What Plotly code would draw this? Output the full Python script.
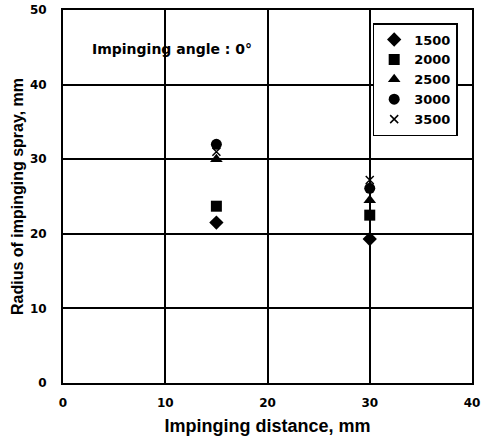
import plotly.graph_objects as go

distance = [15, 30]
series_names = ["1500", "2000", "2500", "3000", "3500"]
r1500 = [21.5, 19.3]
r2000 = [23.7, 22.5]
r2500 = [30.0, 24.5]
r3000 = [32.0, 26.1]
r3500 = [31.0, 27.2]
symbols = ["diamond", "square", "triangle-up", "circle", "x-thin"]
values = [r1500, r2000, r2500, r3000, r3500]

fig = go.Figure()
for name, sym, vals in zip(series_names, symbols, values):
    marker = dict(symbol=sym, color="black", size=11 if sym != "x-thin" else 8)
    if sym == "x-thin":
        marker["line"] = dict(color="black", width=1.5)
    fig.add_trace(go.Scatter(x=distance, y=vals, mode="markers", name=name, marker=marker))

tickfont = dict(family="DejaVu Sans", size=12, color="black", weight="bold")
axis_common = dict(
    showgrid=True, gridcolor="black", gridwidth=2,
    showline=True, linecolor="black", linewidth=2, mirror=True,
    zeroline=False, ticks="", tickfont=tickfont, automargin=False,
)
fig.update_xaxes(range=[0, 40], dtick=10, ticklabelstandoff=8,
                 title=dict(text="Impinging distance, mm", font=dict(family="Liberation Sans", size=18, color="black", weight="bold"), standoff=10),
                 **axis_common)
fig.update_yaxes(range=[0, 50], dtick=10, ticklabelstandoff=12,
                 title=dict(text="Radius of impinging spray, mm", font=dict(family="Liberation Sans", size=16, color="black", weight="bold"), standoff=2),
                 **axis_common)

fig.add_annotation(x=0.066, y=0.922, xref="paper", yref="paper", text="Impinging angle : 0°", showarrow=False, xanchor="left",
                   font=dict(family="DejaVu Sans", size=14, color="black", weight="bold"))

fig.update_layout(
    width=484, height=441,
    margin=dict(l=63, r=12, t=10, b=58),
    plot_bgcolor="white", paper_bgcolor="white",
    legend=dict(x=0.965, y=0.965, xanchor="right", yanchor="top", bordercolor="black", borderwidth=1.5,
                bgcolor="white", font=dict(family="DejaVu Sans", size=13, color="black", weight="bold"),
                itemwidth=30, tracegroupgap=0),
)
fig.write_html("out.html")
